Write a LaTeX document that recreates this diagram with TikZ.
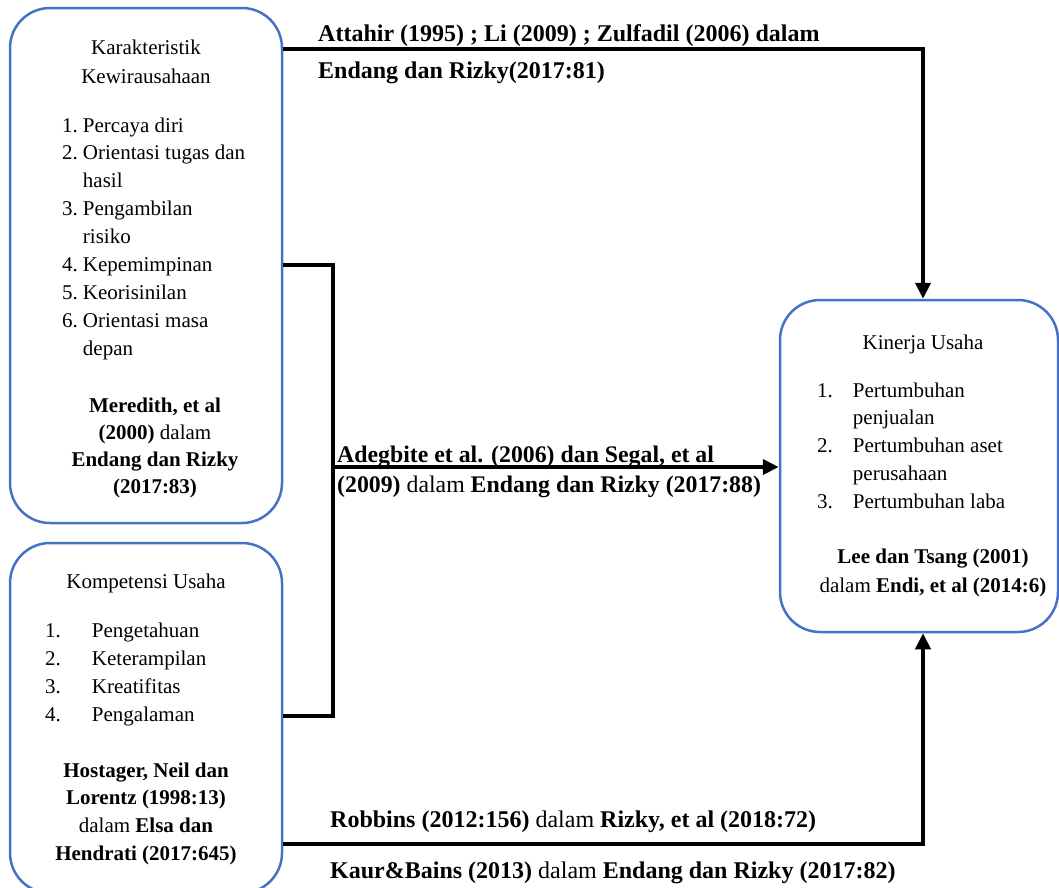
\documentclass[tikz,border=0pt]{standalone}
\usepackage{fontspec}
\setmainfont{Liberation Serif}
\usetikzlibrary{arrows.meta}
\definecolor{biru}{HTML}{4472C4}
\newcommand{\isi}{\fontsize{21}{27.9}\selectfont}
\newcommand{\ket}{\fontsize{23.8}{30}\selectfont\bfseries}

\begin{document}
\begin{tikzpicture}[x=1pt,y=-1pt,
    kotak/.style={draw=biru,line width=2.5pt,rounded corners=40pt,inner sep=0pt},
    teks/.style={inner sep=0pt,anchor=base},
    daftar/.style={inner sep=0pt,anchor=base west},
    garis/.style={line width=4pt},
    panah/.style={garis,-{Triangle[length=16pt,width=15pt]}}]
    \useasboundingbox (0,0) rectangle (1059,887);
    % kotak
    \node[kotak,minimum width=272pt,minimum height=515pt] (karakter) at (146,265.5) {};
    \node[kotak,minimum width=272pt,minimum height=350pt] (kompetensi) at (146,718) {};
    \node[kotak,minimum width=278pt,minimum height=332pt] (kinerja) at (919,466) {};
    % karakteristik kewirausahaan
    \node[teks,font=\fontsize{21}{29}\selectfont] (judul1) at (146,54)
        {\begin{tabular}[t]{@{}c@{}}Karakteristik\\ Kewirausahaan\end{tabular}};
    \node[daftar,font=\isi] (daftar1) at (62,132)
        {\begin{tabular}[t]{@{}l@{\hspace{5pt}}l@{}}
        1. & Percaya diri\\
        2. & Orientasi tugas dan\\
           & hasil\\
        3. & Pengambilan\\
           & risiko\\
        4. & Kepemimpinan\\
        5. & Keorisinilan\\
        6. & Orientasi masa\\
           & depan
        \end{tabular}};
    \node[teks,font=\fontsize{21}{27.2}\selectfont] (sumber1) at (155,412)
        {\begin{tabular}[t]{@{}c@{}}\textbf{Meredith, et al}\\ \textbf{(2000)} dalam\\
        \textbf{Endang dan Rizky}\\ \textbf{(2017:83)}\end{tabular}};
    % kompetensi usaha
    \node[teks,font=\isi] (judul2) at (146,588) {Kompetensi Usaha};
    \node[daftar,font=\fontsize{21}{28.3}\selectfont] (daftar2) at (45,637)
        {\begin{tabular}[t]{@{}l@{\hspace{31pt}}l@{}}
        1. & Pengetahuan\\
        2. & Keterampilan\\
        3. & Kreatifitas\\
        4. & Pengalaman
        \end{tabular}};
    \node[teks,font=\fontsize{21}{27.7}\selectfont] (sumber2) at (146,777)
        {\begin{tabular}[t]{@{}c@{}}\textbf{Hostager, Neil dan}\\ \textbf{Lorentz (1998:13)}\\
        dalam \textbf{Elsa dan}\\ \textbf{Hendrati (2017:645)}\end{tabular}};
    % kinerja usaha
    \node[teks,font=\isi] (judul3) at (923,349) {Kinerja Usaha};
    \node[daftar,font=\fontsize{21}{27.75}\selectfont] (daftar3) at (817,397)
        {\begin{tabular}[t]{@{}l@{\hspace{20pt}}l@{}}
        1. & Pertumbuhan\\
           & penjualan\\
        2. & Pertumbuhan aset\\
           & perusahaan\\
        3. & Pertumbuhan laba
        \end{tabular}};
    \node[teks,font=\fontsize{21}{29}\selectfont] (sumber3) at (933,563)
        {\begin{tabular}[t]{@{}c@{}}\textbf{Lee dan Tsang (2001)}\\
        dalam \textbf{Endi, et al (2014:6)}\end{tabular}};
    % keterangan garis
    \node[daftar,font=\fontsize{24}{37}\selectfont\bfseries] (ketAtas) at (318,41)
        {\begin{tabular}[t]{@{}l@{}}Attahir (1995) ; Li (2009) ; Zulfadil (2006) dalam\\
        Endang dan Rizky(2017:81)\end{tabular}};
    \node[daftar,font=\ket] (ketTengah) at (337,462)
        {\begin{tabular}[t]{@{}l@{}}Adegbite et al. (2006) dan Segal, et al\\
        (2009) \textmd{dalam} Endang dan Rizky (2017:88)\end{tabular}};
    \node[daftar,font=\fontsize{24}{26}\selectfont\bfseries] (ketBawah1) at (330,827)
        {Robbins (2012:156) \textmd{dalam} Rizky, et al (2018:72)};
    \node[daftar,font=\fontsize{24}{26}\selectfont\bfseries] (ketBawah2) at (330,878)
        {Kaur\&Bains (2013) \textmd{dalam} Endang dan Rizky (2017:82)};
    % garis penghubung
    \coordinate (cabang) at (333,467);
    \draw[panah] ([yshift=-42pt]karakter.north east) -| ([xshift=4pt]kinerja.north);
    \draw[garis] ([yshift=-258pt]karakter.north east) -| (cabang)
        |- ([yshift=-174pt]kompetensi.north east);
    \draw[panah] (cabang) -- (kinerja.west |- cabang);
    \draw[panah] ([yshift=-302pt]kompetensi.north east) -| ([xshift=4pt]kinerja.south);
\end{tikzpicture}
\end{document}
